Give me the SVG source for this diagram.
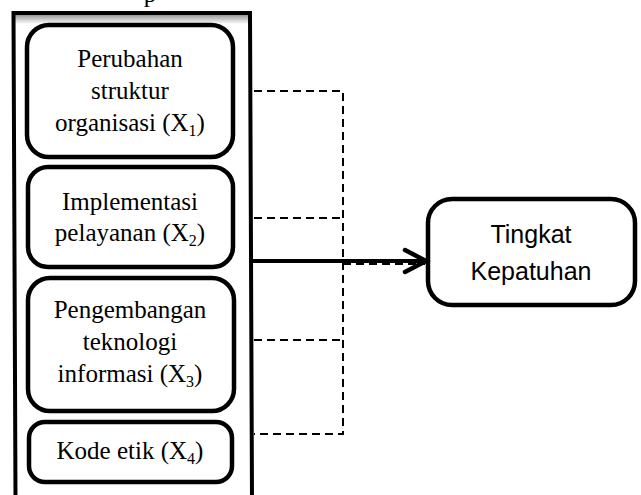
<svg xmlns="http://www.w3.org/2000/svg" width="641" height="495" viewBox="0 0 641 495">
<style>
.box{fill:#fff;stroke:#000;stroke-width:4.5}
.t{font-family:"Liberation Serif","Times New Roman",serif;font-size:25px;fill:#000;text-anchor:middle}
.s{font-family:"Liberation Sans",Arial,sans-serif;font-size:25px;fill:#000;text-anchor:middle}
.dash{fill:none;stroke:#000;stroke-width:2;stroke-dasharray:8 5}
.sub{font-size:16px}
</style>
<defs>
<linearGradient id="shade" x1="0" y1="0" x2="0" y2="1">
<stop offset="0" stop-color="#999"/>
<stop offset="1" stop-color="#fff"/>
</linearGradient>
</defs>
<rect width="641" height="495" fill="#fff"/>
<text class="t" x="150" y="2">p</text>
<g id="frame">
<rect x="15" y="15" width="234" height="9" fill="url(#shade)"/>
<path d="M15.5,497 L13.5,13 L250,13 L252,497" fill="none" stroke="#000" stroke-width="4"/>
</g>
<g id="x1">
<rect class="box" x="27" y="25" width="206" height="132" rx="22"/>
<text class="t" x="130" y="67">Perubahan</text>
<text class="t" x="130" y="99">struktur</text>
<text class="t" x="130" y="131">organisasi (X<tspan class="sub" dy="5">1</tspan><tspan dy="-5">)</tspan></text>
</g>
<g id="x2">
<rect class="box" x="28" y="167" width="205" height="100" rx="20"/>
<text class="t" x="130" y="210">Implementasi</text>
<text class="t" x="130" y="241">pelayanan (X<tspan class="sub" dy="5">2</tspan><tspan dy="-5">)</tspan></text>
</g>
<g id="x3">
<rect class="box" x="28" y="278" width="206" height="133" rx="22"/>
<text class="t" x="130" y="318">Pengembangan</text>
<text class="t" x="130" y="350">teknologi</text>
<text class="t" x="130" y="382">informasi (X<tspan class="sub" dy="5">3</tspan><tspan dy="-5">)</tspan></text>
</g>
<g id="x4">
<rect class="box" x="29" y="422" width="203" height="60" rx="16"/>
<text class="t" x="130" y="459">Kode etik (X<tspan class="sub" dy="5">4</tspan><tspan dy="-5">)</tspan></text>
</g>
<g id="y">
<rect class="box" x="428" y="199" width="207" height="106" rx="24"/>
<text class="s" x="531" y="243">Tingkat</text>
<text class="s" x="531" y="280">Kepatuhan</text>
</g>
<g id="connectors">
<path class="dash" d="M254,91 H343 V434 H254"/>
<path class="dash" d="M254,218 H343"/>
<path class="dash" d="M254,340 H343"/>
<path class="dash" d="M343,264 H425"/>
<path d="M251,261 H426" fill="none" stroke="#000" stroke-width="4"/>
<path d="M405,250 L426,261 L405,272" fill="none" stroke="#000" stroke-width="4.5" stroke-linecap="round" stroke-linejoin="miter"/>
</g>
</svg>
